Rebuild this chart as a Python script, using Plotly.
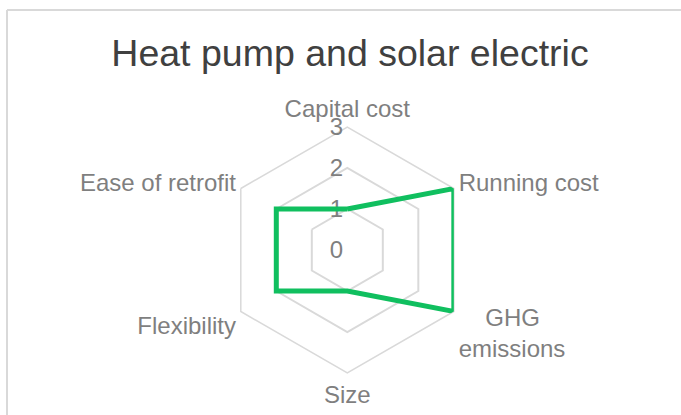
import plotly.graph_objects as go

# categories and scores
categories = ["Capital cost", "Running cost", "\u00a0\u00a0\u00a0\u00a0GHG<br>emissions", "Size", "Flexibility", "Ease of retrofit"]
scores = [1, 3, 3, 1, 2, 2]
radial_ticks = [0, 1, 2, 3]

W, H = 681, 415
cx, cy, R = 350, 250, 123   # center / radius in pixels
GRID = "#D9D9D9"
TXT = "#7F7F7F"

fig = go.Figure()
fig.add_trace(go.Scatterpolar(
    r=scores + scores[:1],
    theta=categories + categories[:1],
    mode="lines",
    line=dict(color="#10BF5F", width=5),
    showlegend=False,
    hoverinfo="skip",
))

fig.update_layout(
    width=W, height=H,
    margin=dict(l=0, r=0, t=0, b=0),
    paper_bgcolor="white",
    font=dict(family="Liberation Sans, Arial", color=TXT, size=24),
    title=dict(text="Heat pump and solar electric", x=cx / W, xanchor="center",
               y=1 - 53 / H, yanchor="middle",
               font=dict(size=37.5, color="#404040")),
    polar=dict(
        domain=dict(x=[0.15, 0.87], y=[1 - (cy + R) / H, 1 - (cy - R) / H]),
        bgcolor="white",
        gridshape="linear",
        radialaxis=dict(range=[0, 3], tickvals=radial_ticks, angle=90, tickangle=90,
                        showline=False, ticks="", gridcolor=GRID, gridwidth=1.5,
                        layer="below traces", ticksuffix="\u00a0\u00a0",
                        tickfont=dict(size=24, color=TXT), side="counterclockwise"),
        angularaxis=dict(rotation=90, direction="clockwise", showgrid=False,
                         showline=True, linecolor=GRID, linewidth=1.5,
                         layer="below traces",
                         ticks="", tickfont=dict(size=24, color=TXT)),
    ),
)

# thin frame around the chart area (top and left edges visible)
fig.add_shape(type="line", xref="paper", yref="paper", x0=7 / W, x1=1, y0=1 - 10 / H, y1=1 - 10 / H,
              line=dict(color=GRID, width=2))
fig.add_shape(type="line", xref="paper", yref="paper", x0=7 / W, x1=7 / W, y0=0, y1=1 - 10 / H,
              line=dict(color=GRID, width=2))

fig.write_html("out.html", config={"displayModeBar": False},
               post_script="document.body.style.margin='0';")
